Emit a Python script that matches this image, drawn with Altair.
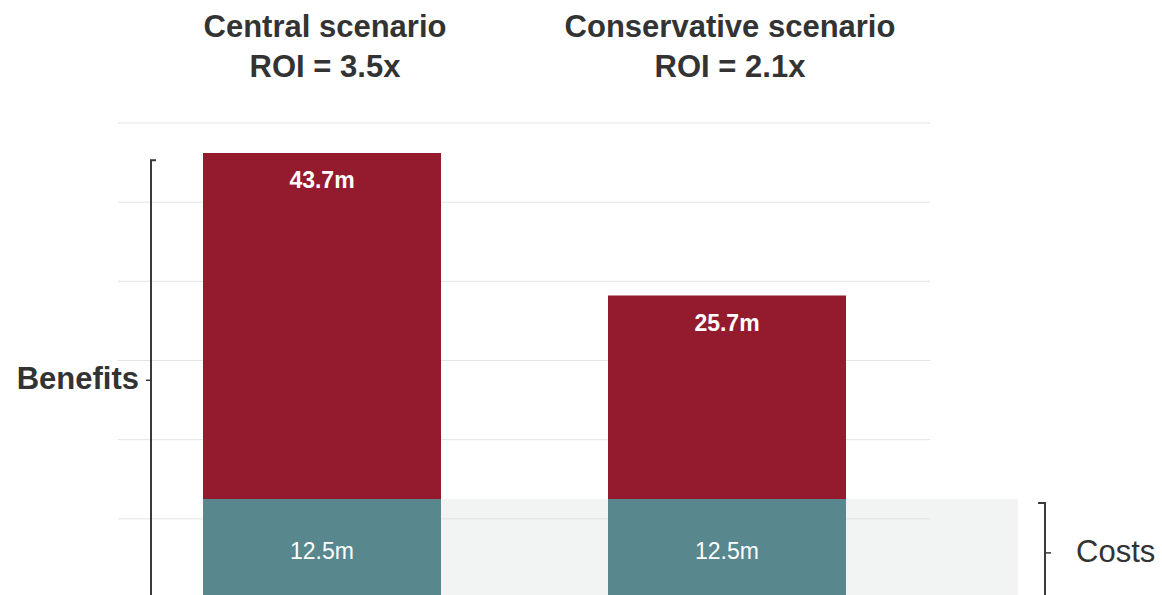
import altair as alt
import pandas as pd

# ---- data ----
scenarios = ["Central scenario", "Conservative scenario"]
roi_labels = ["ROI = 3.5x", "ROI = 2.1x"]
costs = [12.5, 12.5]
benefits = [43.7, 25.7]
gridlines = [10, 20, 30, 40, 50, 60]
benefit_bracket = {"bottom": [0.0], "top": [55.3], "tick": [27.5], "label": ["Benefits"]}
cost_bracket = {"bottom": [0.0], "top": [12.0], "tick": [5.7], "label": ["Costs"]}

RED = "#941b2e"
TEAL = "#58878e"
BAND = "#f2f3f3"
GRID = "#e4e4e4"
INK = "#333333"
FONT = "Liberation Sans"

df = pd.DataFrame({"scenario": scenarios, "roi": roi_labels,
                   "cost": costs, "benefit": benefits})
df["zero"] = 0.0
df["total"] = df["cost"] + df["benefit"]
df["cost_label"] = df["cost"].map(lambda v: f"{v}m")
df["benefit_label"] = df["benefit"].map(lambda v: f"{v}m")

Y = alt.Scale(domain=[0.38, 75.54], zero=False, nice=False)
X = alt.Scale(type="point", domain=scenarios, range=[322, 727], padding=0)
x_enc = alt.X("scenario:N", scale=X, axis=None)

base = alt.Chart(df)

band = base.transform_filter(alt.datum.scenario == scenarios[0]).mark_rect(
    color=BAND, clip=True
).encode(
    x=x_enc, x2=alt.value(1018),
    y=alt.Y("zero:Q", scale=Y, axis=None), y2="cost:Q",
)

grid = alt.Chart(pd.DataFrame({"v": gridlines})).mark_rule(
    color=GRID, strokeWidth=1
).encode(
    y=alt.Y("v:Q", scale=Y, axis=None), x=alt.value(118), x2=alt.value(930)
)

cost_bars = base.mark_bar(color=TEAL, size=238, clip=True).encode(
    x=x_enc, y=alt.Y("zero:Q", scale=Y, axis=None), y2="cost:Q"
)
benefit_bars = base.mark_bar(color=RED, size=238, clip=True).encode(
    x=x_enc, y=alt.Y("cost:Q", scale=Y, axis=None), y2="total:Q"
)

benefit_text = base.mark_text(
    color="white", fontWeight="bold", fontSize=23, baseline="middle", dy=28, font=FONT
).encode(x=x_enc, y=alt.Y("total:Q", scale=Y, axis=None), text="benefit_label:N")

cost_text = base.mark_text(
    color="white", fontSize=23, baseline="middle", dy=53, font=FONT
).encode(x=x_enc, y=alt.Y("cost:Q", scale=Y, axis=None), text="cost_label:N")

title1 = base.mark_text(
    color=INK, fontWeight="bold", fontSize=31, baseline="middle", dx=3, font=FONT
).encode(x=x_enc, y=alt.value(28), text="scenario:N")
title2 = base.mark_text(
    color=INK, fontWeight="bold", fontSize=31, baseline="middle", dx=3, font=FONT
).encode(x=x_enc, y=alt.value(68), text="roi:N")

# ---- brackets ----
bdf = pd.DataFrame(benefit_bracket)
cdf = pd.DataFrame(cost_bracket)
LINE = "#3a3a3a"

def bracket(data, xv, hook_x, tick_x, text_x, align, weight):
    c = alt.Chart(data)
    vert = c.mark_rule(color=LINE, strokeWidth=2, clip=True).encode(
        x=alt.value(xv), y=alt.Y("bottom:Q", scale=Y, axis=None), y2="top:Q")
    hook = c.mark_rule(color=LINE, strokeWidth=2).encode(
        x=alt.value(hook_x[0]), x2=alt.value(hook_x[1]),
        y=alt.Y("top:Q", scale=Y, axis=None))
    tick = c.mark_rule(color=LINE, strokeWidth=1.5).encode(
        x=alt.value(tick_x[0]), x2=alt.value(tick_x[1]),
        y=alt.Y("tick:Q", scale=Y, axis=None))
    label = c.mark_text(color=INK, fontSize=31, fontWeight=weight, align=align,
                        baseline="middle", font=FONT).encode(
        x=alt.value(text_x), y=alt.Y("tick:Q", scale=Y, axis=None), text="label:N")
    return vert + hook + tick + label

left_br = bracket(bdf, 151, (150, 156), (146, 151), 139, "right", "bold")
right_br = bracket(cdf, 1045, (1038, 1046), (1045, 1051), 1076, "left", "normal")

chart = alt.layer(
    band, grid, cost_bars, benefit_bars, benefit_text, cost_text,
    title1, title2, left_br, right_br
).properties(
    width=1162, height=595, padding=0, autosize="none", background="white"
).configure_view(stroke=None)

chart.save("out.html", embed_options={"renderer": "svg", "actions": False})
